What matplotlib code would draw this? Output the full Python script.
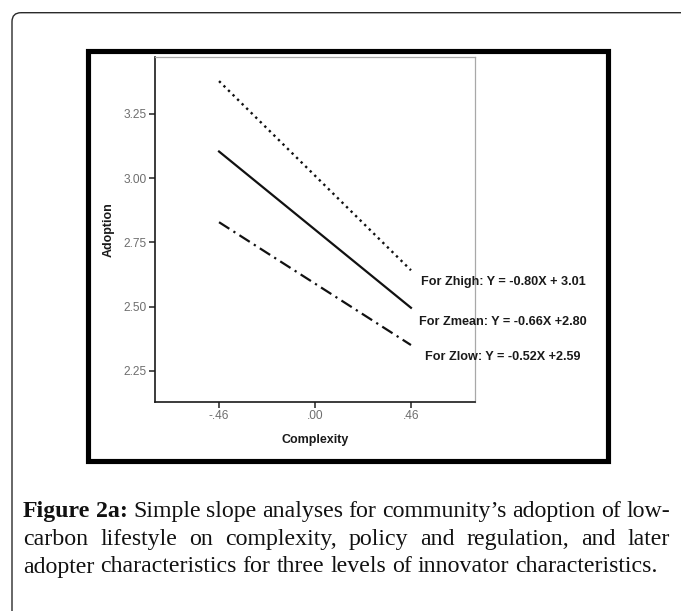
import matplotlib
matplotlib.use("Agg")
import matplotlib.pyplot as plt
from matplotlib.patches import FancyBboxPatch, Rectangle

# Simple-slope endpoints (Complexity at -1 SD / +1 SD)
complexity = [-0.46, 0.46]
adoption_high = [3.378, 2.642]
adoption_mean = [3.104, 2.496]
adoption_low = [2.829, 2.351]

equations = [
    "For Zhigh: Y = -0.80X + 3.01",
    "For Zmean: Y = -0.66X +2.80",
    "For Zlow: Y = -0.52X +2.59",
]

x_ticks = [-0.46, 0.0, 0.46]
x_tick_labels = ["-.46", ".00", ".46"]
y_ticks = [2.25, 2.50, 2.75, 3.00, 3.25]
y_tick_labels = ["2.25", "2.50", "2.75", "3.00", "3.25"]

caption_bold = "Figure 2a:"
caption_lines = [
    "Simple slope analyses for community\u2019s adoption of low-",
    "carbon lifestyle on complexity, policy and regulation, and later",
    "adopter characteristics for three levels of innovator characteristics.",
]

W, H = 681, 611
fig = plt.figure(figsize=(W / 100, H / 100), dpi=100)
fig.patch.set_facecolor("white")

# page-level layer in pixel units
bg = fig.add_axes([0, 0, 1, 1], zorder=0)
bg.set_xlim(0, W)
bg.set_ylim(H, 0)
bg.axis("off")

bg.add_patch(FancyBboxPatch((12, 12.7), 720, 700,
                            boxstyle="round,pad=0,rounding_size=9",
                            facecolor="none", edgecolor="#2a2a2a", lw=1.0))
bg.add_patch(Rectangle((87.5, 50.5), 520, 410, facecolor="white",
                       edgecolor="black", lw=3.7))

# chart
ax = fig.add_axes([155 / W, 1 - 401.7 / H, 320 / W, (401.7 - 57.3) / H], zorder=2)
ax.set_xlim(-0.767, 0.767)
ax.set_ylim(2.1305, 3.4706)

ax.plot(complexity, adoption_high, color="#111111", lw=1.7,
        linestyle=(0, (1.0, 1.7)), dash_capstyle="butt")
ax.plot(complexity, adoption_mean, color="#111111", lw=1.6, linestyle="-")
ax.plot(complexity, adoption_low, color="#111111", lw=1.6,
        linestyle=(0, (5.5, 2.2, 1.0, 2.2)), dash_capstyle="butt")

eq_pos = [(0.901, 2.595), (0.901, 2.442), (0.901, 2.303)]
for (tx, ty), label in zip(eq_pos, equations):
    ax.text(tx, ty, label, ha="center", va="center", fontsize=9.1,
            fontweight="bold", family="Liberation Sans", color="#1a1a1a",
            clip_on=False, zorder=5)

ax.set_xticks(x_ticks)
ax.set_xticklabels(x_tick_labels)
ax.set_yticks(y_ticks)
ax.set_yticklabels(y_tick_labels)
ax.tick_params(axis="both", direction="out", length=4.5, width=1.1,
               color="#222222", labelcolor="#6e6e6e", labelsize=8.6, pad=1.5)
for lbl in ax.get_xticklabels() + ax.get_yticklabels():
    lbl.set_family("Liberation Sans")

for side in ("left", "bottom"):
    ax.spines[side].set_color("#1a1a1a")
    ax.spines[side].set_linewidth(1.2)
for side in ("top", "right"):
    ax.spines[side].set_color("#a8a8a8")
    ax.spines[side].set_linewidth(0.9)

ax.set_xlabel("Complexity", fontsize=9, fontweight="bold",
              family="Liberation Sans", color="#1a1a1a")
ax.xaxis.set_label_coords(0.5, -0.111)
ax.xaxis.label.set_va("center")
ax.set_ylabel("Adoption", fontsize=9, fontweight="bold",
              family="Liberation Sans", color="#1a1a1a")
ax.yaxis.set_label_coords(-0.146, 0.5)
ax.yaxis.label.set_va("center")
ax.yaxis.label.set_ha("center")

# caption, justified across the text block
renderer = fig.canvas.get_renderer()
cap_left, cap_right = 23, 670
baselines = [517, 545, 572.5]
cap_font = dict(family="Liberation Serif", fontsize=17.2, color="#111111")


def width_of(t):
    return t.get_window_extent(renderer).width


def place_line(words, y, justify):
    texts = []
    for w, bold in words:
        t = bg.text(0, y, w, va="baseline", ha="left",
                    fontweight="bold" if bold else "normal", **cap_font)
        texts.append(t)
    widths = [width_of(t) for t in texts]
    if justify and len(texts) > 1:
        gap = (cap_right - cap_left - sum(widths)) / (len(texts) - 1)
    else:
        sp = bg.text(0, y, "a a", **cap_font)
        sp2 = bg.text(0, y, "aa", **cap_font)
        gap = width_of(sp) - width_of(sp2)
        sp.remove()
        sp2.remove()
    x = cap_left
    for t, w in zip(texts, widths):
        t.set_x(x)
        x += w + gap


line1 = [(w, True) for w in caption_bold.split()] + \
        [(w, False) for w in caption_lines[0].split()]
place_line(line1, baselines[0], True)
place_line([(w, False) for w in caption_lines[1].split()], baselines[1], True)
place_line([(w, False) for w in caption_lines[2].split()], baselines[2], False)

fig.savefig("out.png", dpi=100, facecolor="white")
